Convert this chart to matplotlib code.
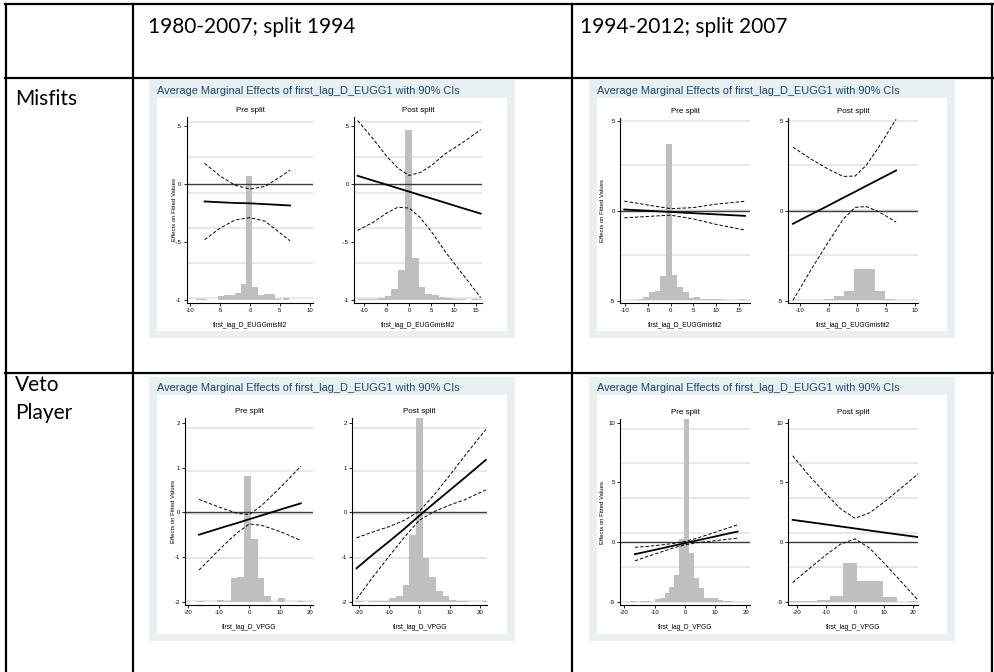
import matplotlib.pyplot as plt
from matplotlib.lines import Line2D
from matplotlib.patches import Rectangle

W, H = 995, 672

# ---------------- text of the table ----------------
col_heads = ["1980-2007; split 1994", "1994-2012; split 2007"]
row_heads = ["Misfits", "Veto\nPlayer"]
panel_title = "Average Marginal Effects of first_lag_D_EUGG1 with 90% CIs"
sub_titles = ["Pre split", "Post split"]
y_label = "Effects on Fitted Values"
x_label_mis = "first_lag_D_EUGGmisfit2"
x_label_veto = "first_lag_D_VPGG"

# ---------------- Misfits, 1980-2007 ----------------
mis80_pre_x = [-7.6, -5, -2.5, 0, 2.5, 5, 6.7]
mis80_pre_est = [-0.15, -0.157, -0.163, -0.166, -0.173, -0.18, -0.185]
mis80_pre_hi = [0.18, 0.07, -0.01, -0.043, -0.02, 0.06, 0.12]
mis80_pre_lo = [-0.48, -0.38, -0.31, -0.29, -0.32, -0.42, -0.49]
mis80_pre_hx = [-8.6, -7.7, -4.8, -3.9, -2.9, -2.0, -1.0, -0.1, 0.9, 1.8, 2.8, 3.7, 4.7, 6.0]
mis80_pre_hh = [-0.99, -0.99, -0.97, -0.955, -0.96, -0.94, -0.86, 0.07, -0.89, -0.955, -0.95, -0.95, -0.99, -0.985]

mis80_post_x = [-11.5, -8, -5, -2.5, 0, 2.5, 5, 8, 12, 16]
mis80_post_est = [0.072, 0.03, -0.005, -0.035, -0.065, -0.095, -0.124, -0.16, -0.208, -0.255]
mis80_post_hi = [0.55, 0.39, 0.24, 0.138, 0.075, 0.10, 0.16, 0.26, 0.36, 0.47]
mis80_post_lo = [-0.40, -0.33, -0.25, -0.20, -0.207, -0.29, -0.41, -0.58, -0.78, -0.98]
mis80_post_hx = [-10.65, -9.15, -7.65, -6.15, -4.65, -3.15, -1.65, -0.15, 1.35, 2.85, 4.35,
                 5.85, 7.35, 8.85, 10.35, 11.85, 14.85, 16.35]
mis80_post_hh = [-0.99, -0.99, -0.99, -0.985, -0.97, -0.908, -0.746, 0.47, -0.64, -0.885, -0.95,
                 -0.96, -0.975, -0.985, -0.99, -0.99, -0.99, -0.99]

# ---------------- Misfits, 1994-2012 ----------------
mis94_pre_x = [-10.25, -5, 0, 5, 10, 16.4]
mis94_pre_est = [0.093, 0.023, -0.043, -0.11, -0.175, -0.26]
mis94_pre_hi = [0.56, 0.34, 0.14, 0.2, 0.39, 0.55]
mis94_pre_lo = [-0.37, -0.29, -0.22, -0.43, -0.73, -1.05]
mis94_pre_hx = [-10.41, -9.16, -7.91, -6.66, -5.41, -4.16, -2.91, -1.66, -0.41, 0.84, 2.09,
                3.34, 4.59, 5.84, 7.09, 8.34, 9.59, 10.84, 15.84]
mis94_pre_hh = [-4.93, -4.93, -4.9, -4.89, -4.78, -4.51, -4.42, -3.58, 3.71, -3.53, -4.22,
                -4.46, -4.83, -4.78, -4.87, -4.89, -4.89, -4.89, -4.89]

mis94_post_x = [-11.2, -8, -5, -2.5, -0.4, 1.5, 3.5, 5.5, 6.7]
mis94_post_est = [-0.70, -0.17, 0.32, 0.74, 1.08, 1.40, 1.73, 2.06, 2.26]
mis94_post_hi = [3.55, 2.88, 2.32, 1.93, 1.95, 2.54, 3.46, 4.49, 5.1]
mis94_post_lo = [-4.95, -3.22, -1.68, -0.45, 0.21, 0.26, 0.0, -0.37, -0.6]
mis94_post_hx = [-10.3, -8.5, -6.7, -4.95, -3.2, -1.43, 0.33, 2.1, 3.85, 5.6, 7.4, 9.2]
mis94_post_hh = [-4.93, -4.93, -4.93, -4.85, -4.7, -4.42, -3.19, -3.19, -4.42, -4.85, -4.93, -4.93]

# ---------------- Veto player, 1980-2007 ----------------
veto80_pre_x = [-16.5, -12, -8, -4, 0, 4, 8, 12, 16.9]
veto80_pre_est = [-0.5, -0.405, -0.32, -0.24, -0.153, -0.07, 0.015, 0.1, 0.2]
veto80_pre_hi = [0.29, 0.17, 0.07, -0.02, -0.05, 0.15, 0.41, 0.68, 1.03]
veto80_pre_lo = [-1.29, -0.98, -0.71, -0.46, -0.26, -0.29, -0.38, -0.48, -0.63]
veto80_pre_hx = [-15.95, -9.35, -7.15, -4.95, -2.75, -0.55, 1.65, 3.85, 6.05, 10.45, 17.05]
veto80_pre_hh = [-1.98, -1.96, -1.98, -1.457, -1.435, 0.81, -0.60, -1.457, -1.88, -1.92, -1.98]

veto80_post_x = [-20.8, -15, -10, -5, 0, 5, 10, 15, 22]
veto80_post_est = [-1.25, -0.92, -0.65, -0.37, -0.075, 0.21, 0.49, 0.77, 1.17]
veto80_post_hi = [-0.57, -0.43, -0.32, -0.18, 0.025, 0.40, 0.82, 1.26, 1.85]
veto80_post_lo = [-1.94, -1.41, -0.98, -0.56, -0.175, 0.02, 0.16, 0.28, 0.50]
veto80_post_hx = [-19.8, -15.4, -13.2, -11.0, -8.8, -6.6, -4.4, -2.2, 0, 2.2, 4.4, 6.6, 8.8,
                  11.0, 13.2, 15.4, 22.0]
veto80_post_hh = [-1.98, -1.98, -1.98, -1.97, -1.92, -1.88, -1.62, -0.505, 2.2, -1.01, -1.45,
                  -1.75, -1.88, -1.95, -1.97, -1.98, -1.98]

# ---------------- Veto player, 1994-2012 ----------------
veto94_pre_x = [-16.5, -12, -8, -4, 0, 4, 8, 12, 17.3]
veto94_pre_est = [-1.0, -0.75, -0.53, -0.30, -0.08, 0.15, 0.37, 0.60, 0.89]
veto94_pre_hi = [-0.42, -0.34, -0.23, -0.11, 0.06, 0.34, 0.67, 1.01, 1.45]
veto94_pre_lo = [-1.56, -1.16, -0.83, -0.49, -0.22, -0.04, 0.07, 0.19, 0.34]
veto94_pre_hx = [-17.1, -13.9, -12.3, -9.1, -7.5, -5.9, -4.3, -2.7, -1.1, 0.5, 2.1, 3.7, 5.3,
                 6.9, 8.5, 10.1, 11.7, 13.3, 14.9, 16.5]
veto94_pre_hh = [-4.95, -4.95, -4.95, -4.78, -4.64, -4.27, -3.72, -2.74, 0.28, 10.5, -0.92,
                 -2.96, -3.85, -4.64, -4.69, -4.69, -4.83, -4.9, -4.95, -4.97]

veto94_post_x = [-21.4, -16, -10, -5, 0, 5, 10, 16, 22]
veto94_post_est = [1.87, 1.69, 1.49, 1.32, 1.15, 0.98, 0.81, 0.61, 0.42]
veto94_post_hi = [7.23, 5.64, 4.05, 2.8, 2.0, 2.46, 3.37, 4.56, 5.79]
veto94_post_lo = [-3.38, -2.26, -1.07, -0.16, 0.28, -0.5, -1.75, -3.34, -4.95]
veto94_post_hx = [-19.9, -15.35, -10.8, -6.25, -1.7, 2.85, 7.4, 11.95, 20.9]
veto94_post_hh = [-4.92, -4.92, -4.83, -4.47, -1.76, -3.21, -3.21, -4.6, -4.9]

# ---------------- layout (pixels, origin top left) ----------------
BLUE = "#e9f0f2"
TITLE_BLUE = "#1a476f"
HIST = "#bfbfbf"
GRID = "#e6e6e6"
SANS = ["Liberation Sans", "DejaVu Sans"]

fig = plt.figure(figsize=(W / 100, H / 100), dpi=100)


def frac(x0, y0, x1, y1):
    return [x0 / W, 1 - y1 / H, (x1 - x0) / W, (y1 - y0) / H]


def hline(y, x0, x1):
    fig.add_artist(Line2D([x0 / W, x1 / W], [1 - y / H, 1 - y / H], color="black", lw=1.6))


def vline(x, y0, y1):
    fig.add_artist(Line2D([x / W, x / W], [1 - y0 / H, 1 - y1 / H], color="black", lw=1.6))


def rect(x0, y0, x1, y1, color):
    r = frac(x0, y0, x1, y1)
    fig.add_artist(Rectangle((r[0], r[1]), r[2], r[3], transform=fig.transFigure,
                             facecolor=color, edgecolor="none", zorder=0))


def stata_fmt(v):
    s = f"{v:g}"
    return s.replace("0.", ".")


# table grid
hline(4, 5, 993)
hline(78, 5, 993)
hline(373, 5, 993)
for x in (6, 133, 572, 992):
    vline(x, 4, 672)

fig.text(148 / W, 1 - 27 / H, col_heads[0], fontsize=15, family="Lato", va="center")
fig.text(580 / W, 1 - 27 / H, col_heads[1], fontsize=15, family="Lato", va="center")
fig.text(15 / W, 1 - 99 / H, row_heads[0], fontsize=15, family="Lato", va="center")
fig.text(15 / W, 1 - 399 / H, row_heads[1], fontsize=15, family="Lato", va="center",
         linespacing=1.45)


def draw_sub(box, xlim, ylim, xticks, yticks, grid, base, hw, hx, hh, xs, est, lo, hi,
             title, xlabel, ylab_off):
    x0, y0, x1, y1 = box
    ax = fig.add_axes(frac(x0, y0, x1, y1))
    ax.set_facecolor("white")
    gb, gs, gn = grid
    for k in range(gn):
        ax.axhline(gb + k * gs, color=GRID, lw=1.3, zorder=0)
    # slight overlap so neighbouring bars join without a hairline gap
    ax.bar(hx, [t - base for t in hh], width=hw * 1.03, bottom=base, color=HIST, lw=0,
           zorder=1)
    ax.axhline(0, color="#3c3c3c", lw=1.0, zorder=2)
    ax.plot(xs, hi, color="black", lw=0.7, ls=(0, (3.5, 2)), zorder=3)
    ax.plot(xs, lo, color="black", lw=0.7, ls=(0, (3.5, 2)), zorder=3)
    ax.plot(xs, est, color="black", lw=1.3, zorder=4)
    ax.set_xlim(xlim)
    ax.set_ylim(ylim)
    ax.set_xticks(xticks)
    ax.set_xticklabels([stata_fmt(v) for v in xticks], family=SANS)
    ax.set_yticks(yticks)
    ax.set_yticklabels([stata_fmt(v) for v in yticks], family=SANS)
    for s in ("top", "right"):
        ax.spines[s].set_visible(False)
    for s in ("left", "bottom"):
        ax.spines[s].set_linewidth(0.8)
    ax.tick_params(direction="out", length=2.5, width=0.6, labelsize=4.3, pad=1.2)
    ax.set_title(title, fontsize=5.8, family=SANS, pad=3.5)
    ax.set_xlabel(xlabel, fontsize=4.8, family=SANS)
    ax.xaxis.set_label_coords(0.5, -19 / (y1 - y0))
    if ylab_off:
        ax.set_ylabel(y_label, fontsize=4.3, family=SANS)
        ax.yaxis.set_label_coords(-ylab_off / (x1 - x0), 0.5)
    return ax


def draw_panel(px0, py0, px1, py1):
    rect(px0, py0, px1, py1, BLUE)
    rect(px0 + 8, py0 + 18, px1 - 8, py1 - 7, "white")
    fig.text((px0 + 8) / W, 1 - (py0 + 11) / H, panel_title, fontsize=7.9, family=SANS,
             color=TITLE_BLUE, va="center")


# Misfits 1980-2007
draw_panel(149, 80, 515, 338)
draw_sub((186.7, 117, 313.3, 302.7), (-10.6, 10.6), (-1.025, 0.58), [-10, -5, 0, 5, 10],
         [-1, -0.5, 0, 0.5], (-0.986, 0.304, 6), -1.0, 0.95,
         mis80_pre_hx, mis80_pre_hh, mis80_pre_x, mis80_pre_est, mis80_pre_lo, mis80_pre_hi,
         sub_titles[0], x_label_mis, 10)
draw_sub((354, 117, 482, 302.7), (-12.3, 16.3), (-1.025, 0.58), [-10, -5, 0, 5, 10, 15],
         [-1, -0.5, 0, 0.5], (-0.986, 0.304, 6), -1.0, 1.5,
         mis80_post_hx, mis80_post_hh, mis80_post_x, mis80_post_est, mis80_post_lo,
         mis80_post_hi, sub_titles[1], x_label_mis, 0)

# Misfits 1994-2012
draw_panel(589, 80, 955, 338)
draw_sub((620, 118, 750, 303.3), (-11.2, 17.5), (-5.11, 5.17), [-10, -5, 0, 5, 10, 15],
         [-5, 0, 5], (-4.93, 2.49, 5), -4.95, 1.25,
         mis94_pre_hx, mis94_pre_hh, mis94_pre_x, mis94_pre_est, mis94_pre_lo, mis94_pre_hi,
         sub_titles[0], x_label_mis, 15)
draw_sub((788.3, 118, 918, 303.3), (-12.0, 10.5), (-5.11, 5.17), [-10, -5, 0, 5, 10],
         [-5, 0, 5], (-4.93, 2.49, 5), -4.95, 1.77,
         mis94_post_hx, mis94_post_hh, mis94_post_x, mis94_post_est, mis94_post_lo,
         mis94_post_hi, sub_titles[1], x_label_mis, 0)

# Veto player 1980-2007
draw_panel(149, 377, 515, 641)
draw_sub((185, 418.3, 313, 605), (-21.1, 20.9), (-2.07, 2.1), [-20, -10, 0, 10, 20],
         [-2, -1, 0, 1, 2], (-1.98, 0.968, 5), -2.0, 2.2,
         veto80_pre_hx, veto80_pre_hh, veto80_pre_x, veto80_pre_est, veto80_pre_lo,
         veto80_pre_hi, sub_titles[0], x_label_veto, 9)
draw_sub((352.3, 418.3, 487, 605), (-22.2, 22.4), (-2.07, 2.1), [-20, -10, 0, 10, 20],
         [-2, -1, 0, 1, 2], (-1.98, 0.968, 5), -2.0, 2.2,
         veto80_post_hx, veto80_post_hh, veto80_post_x, veto80_post_est, veto80_post_lo,
         veto80_post_hi, sub_titles[1], x_label_veto, 0)

# Veto player 1994-2012
draw_panel(589, 377, 955, 641)
draw_sub((620, 419.3, 750, 605), (-21.4, 21.4), (-5.25, 10.28), [-20, -10, 0, 10, 20],
         [-5, 0, 5, 10], (-5.0, 2.9, 6), -5.0, 1.6,
         veto94_pre_hx, veto94_pre_hh, veto94_pre_x, veto94_pre_est, veto94_pre_lo,
         veto94_pre_hi, sub_titles[0], x_label_veto, 15)
draw_sub((788.3, 419.3, 918, 605), (-22.9, 21.6), (-5.25, 10.28), [-20, -10, 0, 10, 20],
         [-5, 0, 5, 10], (-5.0, 2.9, 6), -5.0, 4.57,
         veto94_post_hx, veto94_post_hh, veto94_post_x, veto94_post_est, veto94_post_lo,
         veto94_post_hi, sub_titles[1], x_label_veto, 0)

fig.savefig("out.png", dpi=100)
